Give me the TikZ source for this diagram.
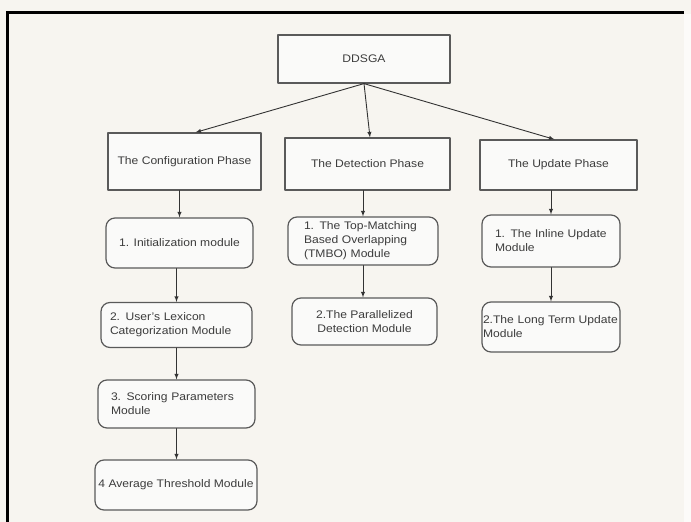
\documentclass[tikz,border=0pt]{standalone}
\usepackage{fontspec}
\setmainfont{Liberation Sans}[FakeStretch=1.1]
\usetikzlibrary{arrows}

\definecolor{paper}{HTML}{F7F5F0}
\definecolor{boxfill}{HTML}{FAFAF9}
\definecolor{linegray}{HTML}{5A5A5A}
\definecolor{txtgray}{HTML}{3C3C3C}

\tikzset{
  phasebox/.style={draw=linegray, line width=1.2pt, fill=boxfill, text=txtgray},
  modbox/.style={phasebox, rounded corners=9pt},
  link/.style={->, >=latex, draw=black!80, line width=0.9pt}
}

\begin{document}
\begin{tikzpicture}[line cap=round,line join=round,x=1pt,y=-1pt,
  font=\fontsize{11}{14}\selectfont]
				% page and frame
				\useasboundingbox (0,0) rectangle (691,522);
				\fill[paper] (0,0) rectangle (691,522);
				\fill[white!60!paper] (684,14) rectangle (691,522);
				\draw[line width=3pt, line cap=butt] (6,12.5)--(684,12.5);
				\draw[line width=3pt, line cap=butt] (7.5,11)--(7.5,522);
				% top
				\node[phasebox, minimum width=172, minimum height=48] (ddsga) at (364,59) {DDSGA};
				% phases
				\node[phasebox, minimum width=153, minimum height=57] (conf) at (184.5,161.5) {The Configuration Phase};
				\node[phasebox, minimum width=165, minimum height=52] (detect) at (367.5,164) {The Detection Phase};
				\node[phasebox, minimum width=157, minimum height=50] (update) at (558.5,165) {The Update Phase};
				% configuration modules
				\node[modbox, minimum width=147, minimum height=50] (init) at (179.5,243) {1. Initialization module};
				\node[modbox, minimum height=45, inner xsep=9, text width=133, align=left] (lex) at (176.5,325) {2. User's Lexicon\\Categorization Module};
				\node[modbox, minimum height=48, inner xsep=13, text width=131, align=left] (score) at (176.5,404) {3. Scoring Parameters\\Module};
				\node[modbox, minimum width=162, minimum height=50, inner xsep=2] (avg) at (176,485) {4 Average Threshold Module};
				% detection modules
				\node[modbox, minimum height=48, inner xsep=16, inner ysep=1, text width=118, align=left] (tmbo) at (363,241) {1. The Top-Matching\\Based Overlapping\\(TMBO) Module};
				\node[modbox, minimum width=145, minimum height=47, align=center] (para) at (364.5,321.5) {2.The Parallelized\\Detection Module};
				% update modules
				\node[modbox, minimum height=52, inner xsep=13, text width=112, align=left] (inline) at (551,241) {1. The Inline Update\\Module};
				\node[modbox, minimum height=50, inner xsep=1, text width=136, align=left] (longterm) at (551,327) {2.The Long Term Update\\Module};
				% connectors
				\draw[link] (ddsga.south) -- ([xshift=11]conf.north);
				\draw[link] (ddsga.south) -- ([xshift=2.5]detect.north);
				\draw[link] (ddsga.south) -- ([xshift=-4]update.north);
				\draw[link] (conf.south -| init.north) -- (init.north);
				\draw[link] (init.south -| lex.north) -- (lex.north);
				\draw[link] (lex.south) -- (score.north);
				\draw[link] (score.south) -- (score.south |- avg.north);
				\draw[link] (detect.south -| tmbo.north) -- (tmbo.north);
				\draw[link] (tmbo.south) -- (tmbo.south |- para.north);
				\draw[link] (update.south -| inline.north) -- (inline.north);
				\draw[link] (inline.south) -- (longterm.north);
		\end{tikzpicture}
\end{document}
